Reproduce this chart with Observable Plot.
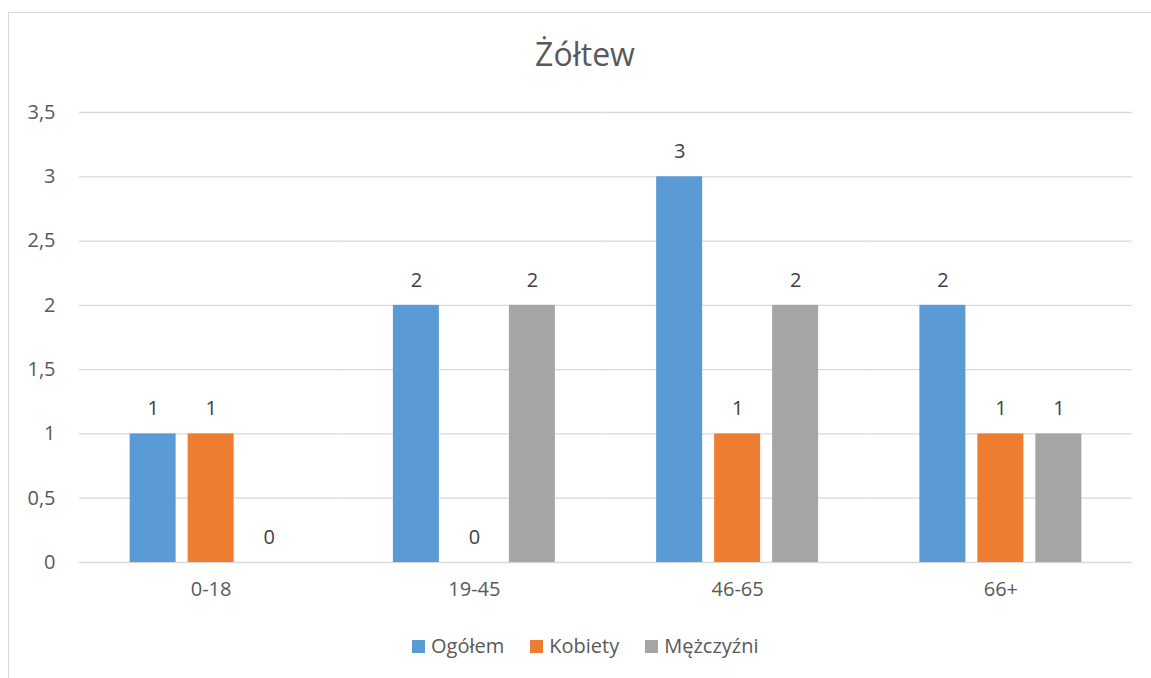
<!DOCTYPE html>
<html>
<head>
<meta charset="utf-8">
<script src="https://cdn.jsdelivr.net/npm/d3@7"></script>
<script src="https://cdn.jsdelivr.net/npm/@observablehq/plot@0.6"></script>
<style>
  html, body { margin: 0; padding: 0; background: #fff; }
  body { width: 1151px; height: 678px; position: relative; overflow: hidden; font-family: 'Open Sans', sans-serif; }
  #frame { position: absolute; left: 8px; top: 12px; width: 1200px; height: 720px; border: 1.5px solid #d9d9d9; box-sizing: border-box; }
  #title { position: absolute; left: 0; top: 34px; width: 1170px; text-align: center; font-size: 32px; line-height: 40px; color: #595959; }
  #chart { position: absolute; left: 0; top: 90px; }
  #legend { position: absolute; top: 632px; left: 412px; display: flex; gap: 26px; font-size: 20px; color: #595959; line-height: 28px; }
  .item { display: flex; align-items: center; }
  .sw { width: 13px; height: 13px; margin-right: 6px; }
</style>
</head>
<body>
<div id="frame"></div>
<div id="title"></div>
<div id="chart"></div>
<div id="legend"></div>
<script>
const titleText = "Żółtew";
const categories = ["0-18", "19-45", "46-65", "66+"];
const series = ["Ogółem", "Kobiety", "Mężczyźni"];
const ogolem = [1, 2, 3, 2];
const kobiety = [1, 0, 1, 1];
const mezczyzni = [0, 2, 2, 1];
const colors = ["#5B9BD5", "#ED7D31", "#A5A5A5"];
const yTicks = [0, 0.5, 1, 1.5, 2, 2.5, 3, 3.5];

const valuesBySeries = [ogolem, kobiety, mezczyzni];
const data = [];
categories.forEach((c, i) => {
  series.forEach((s, j) => {
    data.push({category: c, series: s, value: valuesBySeries[j][i]});
  });
});

document.getElementById("title").textContent = titleText;

const plot = Plot.plot({
  width: 1151,
  height: 520,
  marginLeft: 79,
  marginRight: 19,
  marginTop: 22,
  marginBottom: 48,
  style: {fontFamily: "'Open Sans', sans-serif", fontSize: "20px", color: "#595959", background: "transparent", overflow: "visible"},
  fx: {domain: categories, padding: 0, round: false, label: null},
  x: {domain: series, paddingInner: 0.207, paddingOuter: 0.873, round: false, axis: null},
  y: {domain: [0, 3.5], label: null},
  color: {domain: series, range: colors},
  marks: [
    Plot.gridY({ticks: yTicks, stroke: "#d9d9d9", strokeOpacity: 1, strokeWidth: 1.3}),
    Plot.axisY({ticks: yTicks, tickSize: 0, tickPadding: 24, label: null, fontSize: 20, tickFormat: d => String(d).replace(".", ",")}),
    Plot.axisFx({anchor: "bottom", tickSize: 0, tickPadding: 19, label: null, fontSize: 20}),
    Plot.barY(data, {fx: "category", x: "series", y: "value", fill: "series"}),
    Plot.text(data, {fx: "category", x: "series", y: "value", text: d => String(d.value), dy: -25, fill: "#404040", fontSize: 20})
  ]
});
document.getElementById("chart").appendChild(plot);

const legend = document.getElementById("legend");
series.forEach((s, i) => {
  const item = document.createElement("div");
  item.className = "item";
  const sw = document.createElement("div");
  sw.className = "sw";
  sw.style.background = colors[i];
  const t = document.createElement("span");
  t.textContent = s;
  item.appendChild(sw);
  item.appendChild(t);
  legend.appendChild(item);
});
</script>
</body>
</html>
